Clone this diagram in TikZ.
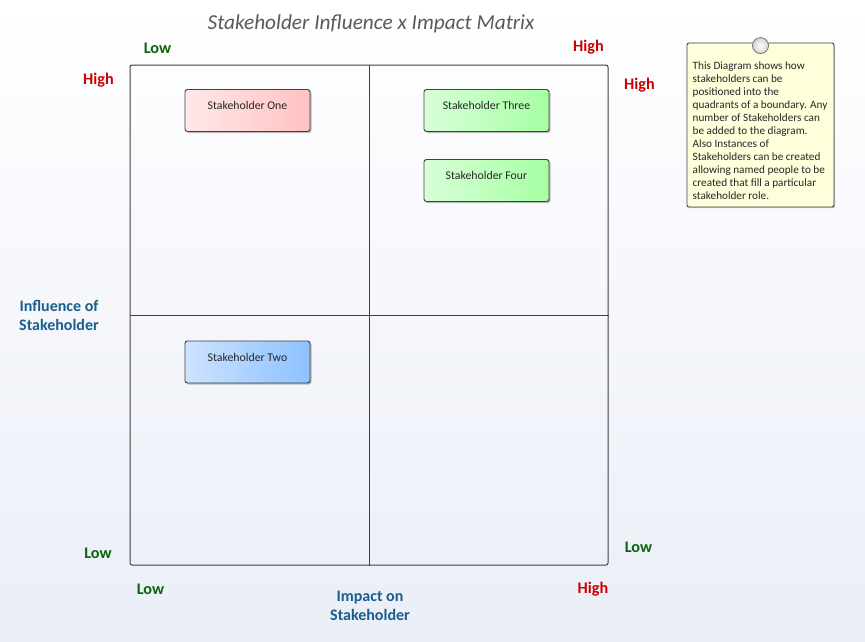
\documentclass[tikz,border=0pt]{standalone}
\usepackage{fontspec}
\setmainfont{Carlito}
\usetikzlibrary{shadows}
\definecolor{bgblue}{HTML}{EAEEF7}
\definecolor{lowgreen}{HTML}{0B630B}
\definecolor{highred}{HTML}{CC0000}
\definecolor{axisblue}{HTML}{1B5E8C}
\definecolor{edgegray}{HTML}{404040}
\definecolor{titlegray}{HTML}{595959}
\definecolor{notefill}{HTML}{FFFFDC}
\definecolor{redL}{HTML}{FFE8E8}
\definecolor{redR}{HTML}{FFC2C2}
\definecolor{greenL}{HTML}{D8FFD8}
\definecolor{greenR}{HTML}{A6FFA2}
\definecolor{blueL}{HTML}{CCE3FF}
\definecolor{blueR}{HTML}{8EC1FF}
\begin{document}
\begin{tikzpicture}[x=1pt,y=-1pt,
  lowlbl/.style={font=\fontsize{16.2}{18}\selectfont\bfseries, text=lowgreen, inner sep=0pt},
  highlbl/.style={font=\fontsize{16.2}{18}\selectfont\bfseries, text=highred, inner sep=0pt},
  axislbl/.style={font=\fontsize{16}{19}\selectfont\bfseries, text=axisblue, inner sep=0pt, align=center},
  stakebox/.style={draw=edgegray, line width=0.9pt, rounded corners=2.5pt,
    minimum width=125pt, minimum height=42pt, inner sep=4pt,
    text height=16pt, text depth=18pt, text=black!85,
    font=\fontsize{11.8}{13}\selectfont,
    drop shadow={shadow xshift=1.5pt, shadow yshift=-1.5pt, opacity=0.25, fill=black}},
]
\useasboundingbox (0,0) rectangle (865,641);
\fill[top color=white, bottom color=bgblue] (0,0) rectangle (865,641);

% title
\node[font=\fontsize{21.3}{23}\selectfont\itshape, text=titlegray] (title) at (371,23.5) {Stakeholder Influence x Impact Matrix};

% matrix
\node[draw=edgegray, line width=1pt, rounded corners=2pt, minimum width=478pt, minimum height=500pt, inner sep=0pt] (quad) at (369,315) {};
\draw[edgegray, line width=1pt] (quad.north) -- (quad.south);
\draw[edgegray, line width=1pt] (quad.west) -- (quad.east);

% axis labels
\node[lowlbl] (lowtl) at (157.5,48.5) {Low};
\node[highlbl] (hightr) at (588.5,47.5) {High};
\node[highlbl] (highl) at (98.5,80.5) {High};
\node[highlbl] (highr) at (639.5,85.5) {High};
\node[lowlbl] (lowl) at (98,553.5) {Low};
\node[lowlbl] (lowr) at (638.5,547.5) {Low};
\node[lowlbl] (lowb) at (150.5,589.5) {Low};
\node[highlbl] (highb) at (593,589.5) {High};
\node[axislbl] (infl) at (59,315.5) {Influence of\\Stakeholder};
\node[axislbl] (impact) at (370,605.5) {Impact on\\Stakeholder};

% stakeholders
\node[stakebox, left color=redL, right color=redR] (one) at (247.5,110.5) {Stakeholder One};
\node[stakebox, left color=greenL, right color=greenR] (three) at (486.5,110.5) {Stakeholder Three};
\node[stakebox, left color=greenL, right color=greenR] (four) at (486.5,180.5) {Stakeholder Four};
\node[stakebox, left color=blueL, right color=blueR] (two) at (247.5,362) {Stakeholder Two};

% note
\node[draw=edgegray, line width=0.9pt, rounded corners=2pt, fill=notefill,
  minimum width=147pt, minimum height=164pt, inner sep=0pt,
  drop shadow={shadow xshift=1.2pt, shadow yshift=-1.2pt, opacity=0.2, fill=black}] (note) at (760.5,125) {};
\node[anchor=north west, align=left, inner sep=0pt, text=black!85,
  font=\fontsize{11.2}{12.95}\selectfont] (notetext) at (692.5,62) {This Diagram shows how\\
stakeholders can be\\
positioned into the\\
quadrants of a boundary. Any\\
number of Stakeholders can\\
be added to the diagram.\\
Also Instances of\\
Stakeholders can be created\\
allowing named people to be\\
created that fill a particular\\
stakeholder role.};
\node[circle, draw=gray!80!black, line width=0.7pt, inner sep=0pt, minimum size=16pt,
  inner color=white, outer color=gray!35] (pin) at ([yshift=-3pt]note.north) {};
\end{tikzpicture}
\end{document}
